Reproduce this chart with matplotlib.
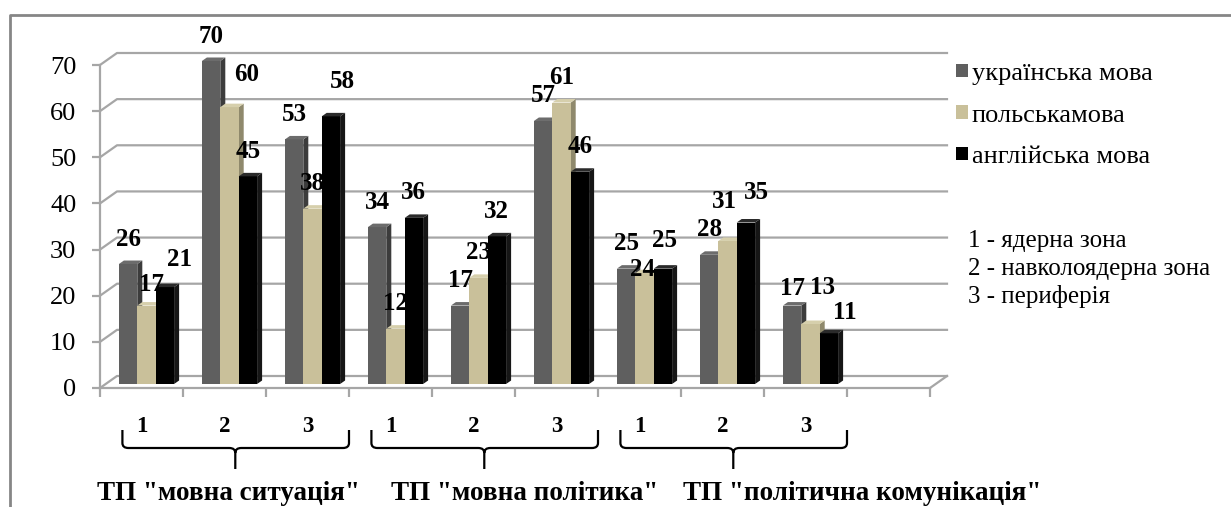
import matplotlib
matplotlib.use("Agg")
import matplotlib.pyplot as plt
import matplotlib.transforms as mtransforms
from matplotlib.patches import Polygon
from matplotlib.path import Path
from matplotlib.patches import PathPatch
from matplotlib.lines import Line2D

# ---------------- data ----------------
categories = ["1", "2", "3", "1", "2", "3", "1", "2", "3"]
groups = ['ТП "мовна ситуація"', 'ТП "мовна політика"', 'ТП "політична комунікація"']
series_names = ["українська мова", "польськамова", "англійська мова"]
ukrainian = [26, 70, 53, 34, 17, 57, 25, 28, 17]
polish = [17, 60, 38, 12, 23, 61, 24, 31, 13]
english = [21, 45, 58, 36, 32, 46, 25, 35, 11]
zones = ["1 - ядерна зона", "2 - навколоядерна зона", "3 - периферія"]
yticks = [0, 10, 20, 30, 40, 50, 60, 70]

front_colors = ["#5f5f5f", "#c9c09a", "#000000"]
side_colors = ["#3c3c3c", "#8f896c", "#161616"]
top_colors = ["#6c6c6c", "#d6cfac", "#2a2a2a"]

# label nudges (pixels: dx right, dy up) where the original chart shifted labels
nudges = {(0, 1): (5, -4), (0, 2): (15, 3), (1, 1): (17, 8), (2, 2): (12, 10),
          (6, 1): (-2, -21), (6, 2): (2, 3), (7, 1): (-3, 14), (7, 2): (11, 5),
          (8, 0): (0, -8), (8, 1): (12, 12), (8, 2): (16, -4)}

plt.rcParams['font.family'] = ['Liberation Serif', 'DejaVu Serif']

W, H = 1231, 507
fig = plt.figure(figsize=(W / 100, H / 100), dpi=100)

# axes: x 0..10 -> px 100..930, y 0..70 -> px 388..65
x0p, x1p, y0p, y1p = 100, 930, 388, 65
ax = fig.add_axes([x0p / W, 1 - y0p / H, (x1p - x0p) / W, (y0p - y1p) / H])
nslots = 10
ax.set_xlim(0, nslots)
ax.set_ylim(0, 70)
ax.patch.set_alpha(0)

pxx = (x1p - x0p) / nslots        # px per x unit
pxy = (y0p - y1p) / 70.0          # px per y unit

# depth of the 3D box
DX, DY = 17 / pxx, 12 / pxy
# bars: front face shift and depth
bfx, bfy = 5 / pxx, 4 / pxy
bsx, bsy = 5 / pxx, 3.5 / pxy
bw = 18.4 / pxx

grid_c = "#a6a6a6"
# back wall gridlines with left diagonal
for yv in yticks:
    ax.add_line(Line2D([0, DX, nslots + DX], [yv, yv + DY, yv + DY],
                       color=grid_c, lw=1.6, clip_on=False, zorder=1))
# floor right edge
ax.add_line(Line2D([nslots, nslots + DX], [0, DY], color=grid_c, lw=1.6,
                   clip_on=False, zorder=1))

# bars
all_series = [ukrainian, polish, english]
for i in range(len(categories)):
    for j, vals in enumerate(all_series):
        v = vals[i]
        xl = i + 0.5 - 1.5 * bw + j * bw + bfx
        xr = xl + bw
        b = bfy
        t = b + v
        ax.bar(xl, v, width=bw, bottom=b, align='edge', color=front_colors[j],
               edgecolor='none', zorder=3 + i * 3 + j, clip_on=False,
               label=series_names[j] if i == 0 else None)
        side = Polygon([(xr, b), (xr + bsx, b + bsy), (xr + bsx, t + bsy), (xr, t)],
                       closed=True, facecolor=side_colors[j], edgecolor='none',
                       zorder=3 + i * 3 + j - 0.5, clip_on=False)
        ax.add_patch(side)
        top = Polygon([(xl, t), (xl + bsx, t + bsy), (xr + bsx, t + bsy), (xr, t)],
                      closed=True, facecolor=top_colors[j], edgecolor='none',
                      zorder=3 + i * 3 + j, clip_on=False)
        ax.add_patch(top)
        ndx, ndy = nudges.get((i, j), (0, 0))
        ax.text((xl + xr) / 2 + ndx / pxx, t + (25 + ndy) / pxy, str(v),
                ha='center', va='center', fontsize=18, fontweight='bold',
                zorder=100, clip_on=False)

# axes styling
for s in ['top', 'right']:
    ax.spines[s].set_visible(False)
ax.spines['left'].set_color(grid_c)
ax.spines['left'].set_linewidth(1.6)
ax.spines['bottom'].set_color(grid_c)
ax.spines['bottom'].set_linewidth(1.6)
ax.set_yticks(yticks)
ax.set_yticklabels([str(t) for t in yticks])
ax.tick_params(axis='y', length=6, width=1.6, color=grid_c, labelsize=19, pad=11)
ax.set_xticks(range(nslots + 1))
ax.set_xticklabels([])
ax.tick_params(axis='x', which='major', length=6.5, width=1.6, color=grid_c, direction='out')
ax.set_xticks([i + 0.5 for i in range(len(categories))], minor=True)
ax.set_xticklabels(categories, minor=True, fontsize=16.5, fontweight='bold')
ax.tick_params(axis='x', which='minor', length=0, pad=20)

# pixel-from-top transforms
pix = mtransforms.Affine2D().scale(1 / W, -1 / H).translate(0, 1) + fig.transFigure
bt = mtransforms.blended_transform_factory(ax.transData, pix)

# braces
for g in range(len(groups)):
    a = 3 * g + 0.27
    c = 3 * g + 3.0
    m = 3 * g + 1.63
    r = 6 / pxx
    ytop, ymid, ytip = 430, 448, 469
    verts = [(a, ytop), (a, ymid - 5), (a, ymid), (a + r, ymid),
             (m - r, ymid), (m, ymid), (m, ymid + 5), (m, ytip),
             (m, ymid + 5), (m, ymid), (m + r, ymid),
             (c - r, ymid), (c, ymid), (c, ymid - 5), (c, ytop)]
    codes = [Path.MOVETO, Path.LINETO, Path.CURVE3, Path.CURVE3,
             Path.LINETO, Path.CURVE3, Path.CURVE3, Path.LINETO,
             Path.MOVETO, Path.CURVE3, Path.CURVE3,
             Path.LINETO, Path.CURVE3, Path.CURVE3, Path.LINETO]
    pp = PathPatch(Path(verts, codes), facecolor='none', edgecolor='black', lw=1.6,
                   transform=bt, clip_on=False)
    ax.add_patch(pp)

# group captions (placed as in the original document)
caption_x = [228, 525, 862]
for name, cx in zip(groups, caption_x):
    fig.text(cx / W, 1 - 494 / H, name, ha='center', va='center', fontsize=19.5,
             fontweight='bold')

# legend
leg = ax.legend(loc='upper left', bbox_to_anchor=(956 / W, 1 - 63 / H),
                bbox_transform=fig.transFigure, frameon=False, fontsize=19,
                handlelength=0.45, handleheight=0.42, handletextpad=0.15,
                labelspacing=0.74, borderaxespad=0, borderpad=0)

# zone notes
for k, z in enumerate(zones):
    fig.text(968 / W, 1 - (241 + 28 * k) / H, z, ha='left', va='center', fontsize=18)

# outer frame
fig.add_artist(Line2D([10 / W, 10 / W, 1.0], [0, 1 - 15 / H, 1 - 15 / H],
                      color="#868686", lw=2, transform=fig.transFigure))

fig.savefig("out.png", dpi=100)
